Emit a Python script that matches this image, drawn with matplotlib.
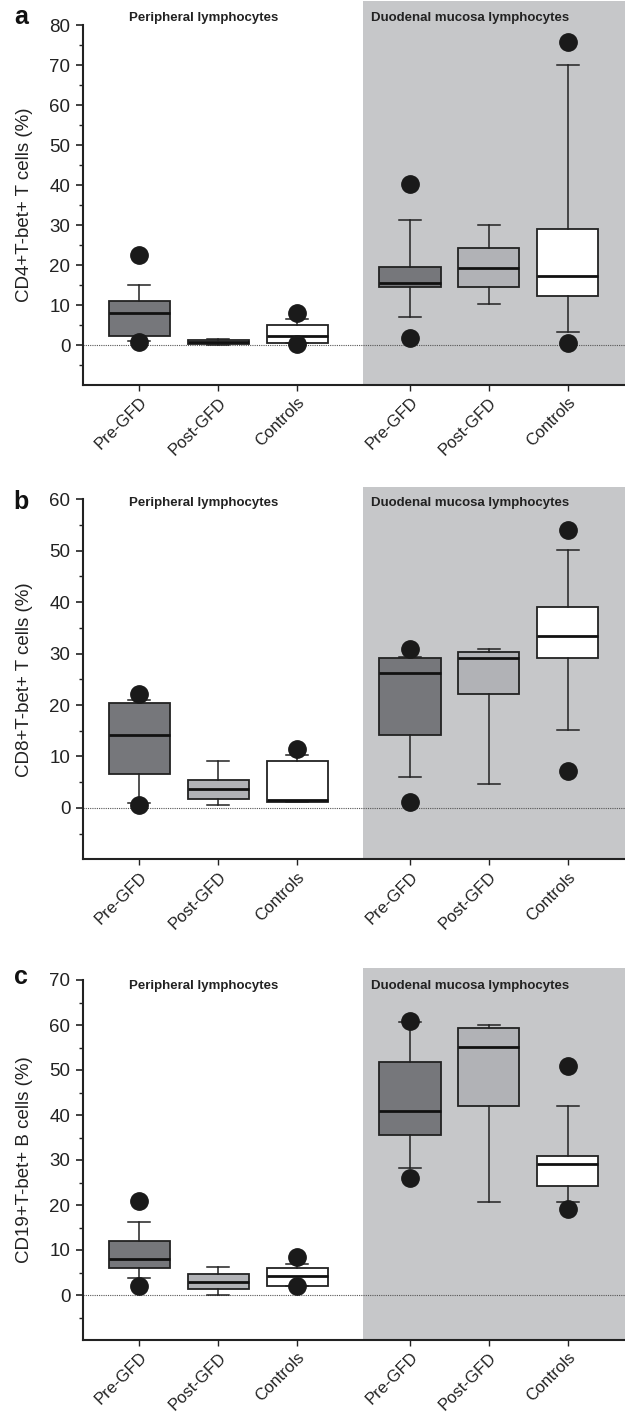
import matplotlib
matplotlib.use("Agg")
import matplotlib.pyplot as plt
from matplotlib.patches import Rectangle

plt.rcParams['font.family'] = ['Liberation Sans', 'DejaVu Sans']

# ---------------- data ----------------
groups = ["Pre-GFD", "Post-GFD", "Controls", "Pre-GFD", "Post-GFD", "Controls"]
region_labels = ["Peripheral lymphocytes", "Duodenal mucosa lymphocytes"]
panel_letters = ["a", "b", "c"]
ylabels = ["CD4+T-bet+ T cells (%)", "CD8+T-bet+ T cells (%)", "CD19+T-bet+ B cells (%)"]
ymax = [80, 60, 70]

# Panel a: CD4+T-bet+
a_whislo = [1.0, 0.1, 0.4, 7.0, 10.2, 3.2]
a_q1 = [2.2, 0.2, 0.4, 14.6, 14.6, 12.2]
a_med = [7.9, 0.7, 2.2, 15.5, 19.2, 17.3]
a_q3 = [11.1, 1.2, 5.1, 19.5, 24.3, 28.9]
a_whishi = [14.9, 1.4, 6.4, 31.3, 29.9, 70.1]
a_fliers = [[22.4, 0.75], [], [8.0, 0.3], [40.2, 1.8], [], [75.8, 0.5]]

# Panel b: CD8+T-bet+
b_whislo = [1.0, 0.65, 1.1, 6.1, 4.7, 15.2]
b_q1 = [6.6, 1.8, 1.1, 14.2, 22.2, 29.1]
b_med = [14.2, 3.7, 1.5, 26.3, 29.1, 33.5]
b_q3 = [20.4, 5.5, 9.1, 29.1, 30.3, 39.0]
b_whishi = [21.0, 9.06, 10.2, 29.4, 30.9, 50.2]
b_fliers = [[22.2, 0.65], [], [11.5], [30.9, 1.1], [], [54.0, 7.2]]

# Panel c: CD19+T-bet+
c_whislo = [3.7, 0.0, 2.1, 28.3, 20.7, 20.7]
c_q1 = [5.9, 1.3, 2.1, 35.5, 42.1, 24.2]
c_med = [8.0, 3.0, 4.2, 40.9, 55.1, 29.1]
c_q3 = [12.1, 4.6, 5.9, 51.7, 59.3, 30.8]
c_whishi = [16.2, 6.2, 7.0, 60.6, 59.9, 42.0]
c_fliers = [[20.9, 2.0], [], [8.4, 2.0], [61.0, 25.9], [], [50.8, 19.1]]

panels = [
    (a_whislo, a_q1, a_med, a_q3, a_whishi, a_fliers),
    (b_whislo, b_q1, b_med, b_q3, b_whishi, b_fliers),
    (c_whislo, c_q1, c_med, c_q3, c_whishi, c_fliers),
]

# ---------------- style / layout ----------------
positions = [1, 2, 3, 4.43, 5.43, 6.43]
box_colors = ["#76777b", "#b1b2b6", "#ffffff"] * 2
bg_gray = "#c6c7c9"
xlim = (0.286, 7.156)
gray_start = 3.83

W, H = 625, 1416
fig = plt.figure(figsize=(W / 100, H / 100), dpi=100)

ax_tops = [25, 499.3, 980]       # pixel y of axis top
ax_h = 360
ax_left = 83
gray_top_off = [24, 12.6, 11.7]  # px above axis top
header_off = [7, -3.4, -6]       # px above axis top (negative = below)
letter_off = [8, -3, 3]          # px above axis top

for i, (wl, q1, md, q3, wh, fl) in enumerate(panels):
    top = ax_tops[i]
    ax = fig.add_axes([ax_left / W, 1 - (top + ax_h) / H, (W - ax_left) / W, ax_h / H])
    ax.set_xlim(*xlim)
    ax.set_ylim(-10, ymax[i])

    # gray background for duodenal region (extends slightly above axes)
    rect = Rectangle((gray_start, 0), xlim[1] - gray_start, 1 + gray_top_off[i] / ax_h,
                     transform=ax.get_xaxis_transform(), facecolor=bg_gray,
                     edgecolor="none", clip_on=False, zorder=0)
    ax.add_patch(rect)

    # zero reference line
    ax.axhline(0, color="#555555", lw=0.8, ls=(0, (1, 1)), zorder=1)

    stats = []
    for k in range(6):
        stats.append(dict(whislo=wl[k], q1=q1[k], med=md[k], q3=q3[k],
                          whishi=wh[k], fliers=fl[k], label=groups[k]))
    bp = ax.bxp(stats, positions=positions, widths=0.775, patch_artist=True,
                showfliers=True, capwidths=0.28,
                boxprops=dict(linewidth=1.3, edgecolor="#222222"),
                medianprops=dict(color="#111111", linewidth=2.0),
                whiskerprops=dict(color="#222222", linewidth=1.1),
                capprops=dict(color="#222222", linewidth=1.1),
                flierprops=dict(marker="o", markersize=12.5, markerfacecolor="#1a1a1a",
                                markeredgecolor="#1a1a1a", linestyle="none"))
    for patch, col in zip(bp["boxes"], box_colors):
        patch.set_facecolor(col)
        patch.set_zorder(2)
    for key in ["medians", "whiskers", "caps", "fliers"]:
        for art in bp[key]:
            art.set_zorder(3)

    # axes styling
    ax.set_facecolor("none")
    for s in ["top", "right"]:
        ax.spines[s].set_visible(False)
    for s in ["left", "bottom"]:
        ax.spines[s].set_linewidth(1.5)
        ax.spines[s].set_color("#222222")
        ax.spines[s].set_zorder(4)
    ax.set_yticks(range(0, ymax[i] + 1, 10))
    ax.set_yticks(range(-5, ymax[i], 10), minor=True)
    ax.tick_params(axis="y", which="major", length=5, width=1.2, labelsize=13.5, pad=4,
                   colors="#222222")
    ax.tick_params(axis="y", which="minor", length=3, width=1.0, colors="#222222")
    ax.set_xticks(positions)
    ax.set_xticklabels(groups, rotation=45, ha="right", rotation_mode="anchor")
    ax.tick_params(axis="x", length=4, width=1.0, labelsize=12, pad=3, colors="#222222")
    ax.set_ylabel(ylabels[i], fontsize=13.5, color="#222222", labelpad=12)

    # region headers
    hy = 1 + header_off[i] / ax_h
    ax.text(1.82, hy, region_labels[0], transform=ax.get_xaxis_transform(),
            ha="center", va="center", fontsize=9.5, fontweight="bold", color="#222222")
    ax.text(5.19, hy, region_labels[1], transform=ax.get_xaxis_transform(),
            ha="center", va="center", fontsize=9.5, fontweight="bold", color="#222222")

    # panel letter
    fig.text(21 / W, 1 - (top - letter_off[i]) / H, panel_letters[i], ha="center",
             va="center", fontsize=18, fontweight="bold", color="#111111")

fig.savefig("out.png", dpi=100)
